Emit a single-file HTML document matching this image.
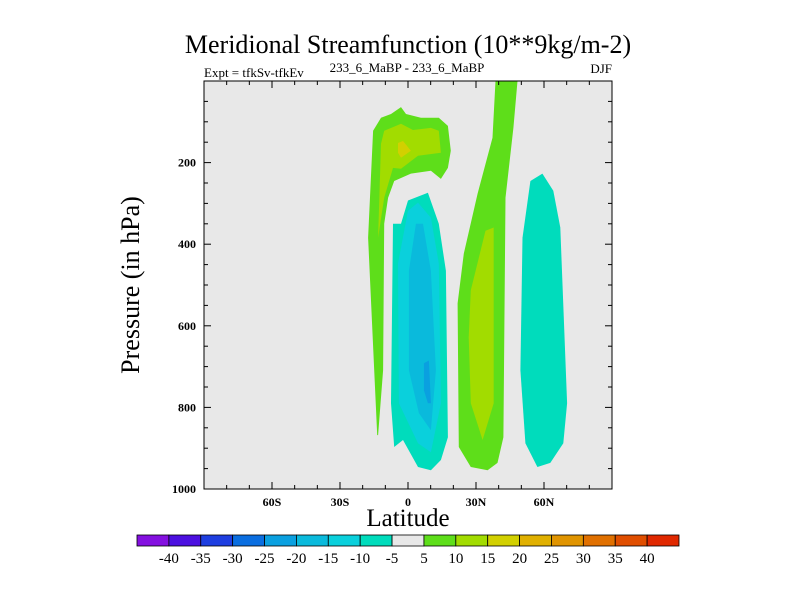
<!DOCTYPE html>
<html><head><meta charset="utf-8"><style>
body{margin:0;background:#fff}
svg{display:block}
text{font-family:"Liberation Serif",serif;fill:#000}
</style></head><body>
<svg id="chart" width="800" height="600" viewBox="0 0 800 600">
<text x="408" y="53" font-size="26" text-anchor="middle">Meridional Streamfunction (10**9kg/m-2)</text>
<text x="204" y="77" font-size="13">Expt = tfkSv-tfkEv</text>
<text x="407" y="72" font-size="13" text-anchor="middle">233_6_MaBP - 233_6_MaBP</text>
<text x="612" y="73" font-size="13" text-anchor="end">DJF</text>
<rect x="204" y="81" width="408" height="408" fill="#e8e8e8"/>
<g id="contours"></g>
<g id="axes"></g>
<text x="408" y="526" font-size="25" text-anchor="middle">Latitude</text>
<text transform="translate(139,285) rotate(-90)" font-size="26" text-anchor="middle">Pressure (in hPa)</text>
<g id="colorbar"></g>
</svg>
<script>
const levels=[-40,-35,-30,-25,-20,-15,-10,-5,5,10,15,20,25,30,35,40];
const levelColors=["#8410e0","#4c10e0","#1e3ee0","#0a6ee0","#0aa0e0","#0abadc","#0ad0dc","#00dcbc","#e8e8e8","#5ede1a","#a2dc00","#d2d000","#e0b000","#e09400","#e07000","#e04e00","#e02800"];
const xTicks=[-60,-30,0,30,60];
const xTickLabels=["60S","30S","0","30N","60N"];
const yTicks=[200,400,600,800,1000];
// contour regions: [lat, pressure] with level color index
const hookOuter=[[-13.6,868],[-17.6,384],[-15.4,122],[-11.9,90],[-7.5,81],[-3.1,64],[-0.9,81],[5.7,90],[13.6,90],[17.6,110],[18.9,171],[17.6,213],[14.5,240],[10.1,220],[1.3,227],[-6.1,245],[-8.8,286],[-10.5,350],[-11,709],[-13.2,868]];
const hookInner=[[-13.2,384],[-11.9,154],[-10.5,122],[-3.1,105],[2.2,120],[10.1,115],[13.6,122],[14.5,176],[4.4,183],[-3.1,215],[-6.6,213],[-10.5,286]];
const hookCore=[[-4.4,152],[-2.2,147],[1.3,171],[-3.1,188],[-4.4,176]];
const cellNeg5=[[-6.1,897],[-7.5,790],[-6.6,350],[-3.1,350],[0,293],[8.8,274],[13.6,350],[16.7,465],[17.6,873],[14.5,929],[10.1,954],[4.4,946],[-2.2,880]];
const cellNeg10=[[-4.4,447],[0,318],[4.4,298],[10.1,335],[13.6,447],[14.5,790],[10.1,910],[4.4,888],[-4,790]];
const cellNeg15=[[0.4,465],[3.5,350],[6.6,350],[10.1,465],[12.3,709],[10.1,856],[4.8,814],[0.4,709]];
const cellNeg20=[[7,692],[9.2,685],[10.1,790],[8.8,790],[7,758]];
const tongueOuter=[[38.6,0],[48.3,0],[46.5,115],[43,286],[42.1,873],[39.5,936],[35.1,954],[27.7,946],[22.4,897],[21.9,545],[24.6,423],[30.7,276],[37.3,139]];
const tongueInner=[[27.7,513],[34.2,367],[37.8,359],[37.8,790],[32.9,880],[27.7,790],[26.8,628]];
const northCell=[[54,245],[59.3,227],[64.1,269],[67.2,359],[70.2,790],[68.5,888],[62.8,936],[57.1,946],[51.8,888],[49.6,709],[50.5,384]];

const NS="http://www.w3.org/2000/svg";
const X0=204,X1=612,Y0=81,Y1=489;
const xs=lat=>X0+(lat+90)/180*(X1-X0);
const ys=p=>Y0+p/1000*(Y1-Y0);
function mk(tag,attrs,parent){const e=document.createElementNS(NS,tag);for(const k in attrs)e.setAttribute(k,attrs[k]);parent.appendChild(e);return e;}
const cg=document.getElementById('contours');
const regions=[[hookOuter,9,'hook-contour-5'],[hookInner,10,'hook-contour-10'],[hookCore,11,'hook-contour-15'],[cellNeg5,7,'cell-contour-minus5'],[cellNeg10,6,'cell-contour-minus10'],[cellNeg15,5,'cell-contour-minus15'],[cellNeg20,4,'cell-contour-minus20'],[tongueOuter,9,'tongue-contour-5'],[tongueInner,10,'tongue-contour-10'],[northCell,7,'north-cell-contour-minus5']];
regions.forEach(r=>{
  const el=mk('polygon',{points:r[0].map(d=>xs(d[0]).toFixed(1)+','+ys(d[1]).toFixed(1)).join(' '),fill:levelColors[r[1]],'stroke-linejoin':'round'},cg);
  
  
});
const ag=document.getElementById('axes');
const frame=mk('rect',{x:X0,y:Y0,width:X1-X0,height:Y1-Y0,fill:'none',stroke:'#000','stroke-width':1},ag);


for(let lat=-90;lat<=90;lat+=10){
  const x=xs(lat),L=(lat%30===0)?7:4;
  mk('line',{x1:x,x2:x,y1:Y1,y2:Y1-L,stroke:'#000'},ag);
  mk('line',{x1:x,x2:x,y1:Y0,y2:Y0+L,stroke:'#000'},ag);
}
for(let p=0;p<=1000;p+=50){
  const y=ys(p),L=(p%200===0)?7:4;
  mk('line',{x1:X0,x2:X0+L,y1:y,y2:y,stroke:'#000'},ag);
  mk('line',{x1:X1,x2:X1-L,y1:y,y2:y,stroke:'#000'},ag);
}
xTicks.forEach((v,i)=>{
  const t=mk('text',{x:xs(v),y:Y1+17,'font-size':12,'font-weight':'bold','text-anchor':'middle'},ag);
  t.textContent=xTickLabels[i];
  
  
});
yTicks.forEach(v=>{
  const t=mk('text',{x:X0-8,y:ys(v)+4,'font-size':12,'font-weight':'bold','text-anchor':'end'},ag);
  t.textContent=v;
  
  
});
const cb=document.getElementById('colorbar');
const CB0=137,CB1=679,bw=(CB1-CB0)/levelColors.length;
levelColors.forEach((c,i)=>{
  const r=mk('rect',{x:CB0+i*bw,y:535,width:bw,height:11,fill:c,stroke:'#000','stroke-width':0.8},cb);
  
  
});
levels.forEach((v,i)=>{
  const t=mk('text',{x:CB0+(i+1)*bw,y:563,'font-size':15,'text-anchor':'middle'},cb);
  t.textContent=v;
  
  
});
</script>
</body></html>
